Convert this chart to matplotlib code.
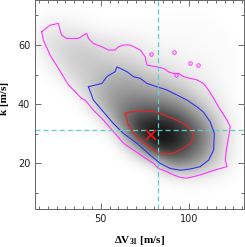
import matplotlib
matplotlib.use('Agg')
import matplotlib.pyplot as plt
import numpy as np
from matplotlib.ticker import MultipleLocator

plt.rcParams['mathtext.fontset'] = 'custom'
plt.rcParams['mathtext.rm'] = 'Liberation Serif:bold'
plt.rcParams['mathtext.default'] = 'rm'

# Density map (darkness 0..1) on a coarse grid
grid_x = [10, 20, 30, 40, 50, 60, 70, 80, 90, 100, 110, 120, 130]
grid_y = [75, 70, 65, 60, 55, 50, 45, 40, 35, 30, 25, 20, 15, 10, 5]
density = [
    [0, 0, 0, 0, 0, 0, 0, 0, 0, 0, 0, 0, 0],
    [0, 0.02, 0.02, 0.01, 0, 0, 0, 0, 0.01, 0.01, 0.01, 0, 0],
    [0, 0.09, 0.09, 0.06, 0.03, 0.02, 0.02, 0.02, 0.02, 0.02, 0.02, 0.01, 0],
    [0, 0.12, 0.17, 0.19, 0.13, 0.11, 0.07, 0.04, 0.03, 0.03, 0.02, 0.02, 0],
    [0, 0.05, 0.17, 0.22, 0.20, 0.17, 0.13, 0.09, 0.06, 0.04, 0.03, 0.02, 0],
    [0, 0, 0.11, 0.20, 0.26, 0.31, 0.27, 0.18, 0.13, 0.08, 0.05, 0.02, 0],
    [0, 0, 0, 0.14, 0.31, 0.39, 0.40, 0.35, 0.28, 0.17, 0.08, 0.03, 0],
    [0, 0, 0, 0, 0.30, 0.46, 0.54, 0.55, 0.48, 0.34, 0.16, 0.05, 0],
    [0, 0, 0, 0, 0.02, 0.48, 0.74, 0.82, 0.78, 0.58, 0.32, 0.08, 0],
    [0, 0, 0, 0, 0, 0.08, 0.82, 0.99, 0.94, 0.75, 0.47, 0.12, 0],
    [0, 0, 0, 0, 0, 0, 0.20, 0.84, 0.87, 0.67, 0.42, 0.12, 0],
    [0, 0, 0, 0, 0, 0, 0, 0.05, 0.48, 0.46, 0.28, 0.08, 0],
    [0, 0, 0, 0, 0, 0, 0, 0, 0.03, 0.06, 0.04, 0.02, 0],
    [0, 0, 0, 0, 0, 0, 0, 0, 0, 0, 0, 0, 0],
    [0, 0, 0, 0, 0, 0, 0, 0, 0, 0, 0, 0, 0],
]

# Outer (magenta) contour
mag_x = [16.6, 21.3, 26.0, 27.0, 27.9, 30.7, 37.3, 40.2, 42.1, 43.0, 45.8, 50.6, 54.3, 58.1,
         60.0, 62.8, 66.6, 72.3, 75.1, 76.1, 81.7, 85.5, 88.3, 91.1, 94.0, 96.8, 100.6, 104.4,
         108.1, 110.9, 113.8, 116.6, 121.4, 123.2, 122.3, 121.0, 120.4, 121.4, 114.7, 106.2,
         98.7, 94.9, 91.1, 87.4, 82.6, 79.8, 74.1, 68.5, 62.8, 58.1, 51.5, 45.8, 41.1, 39.2,
         31.7, 26.0, 21.3, 17.5, 16.6]
mag_y = [64.5, 66.7, 67.3, 65.0, 63.3, 62.2, 62.2, 63.3, 63.9, 62.2, 60.5, 59.4, 58.3, 58.3,
         59.4, 60.0, 60.0, 58.3, 56.0, 53.2, 52.6, 52.1, 50.9, 50.4, 50.4, 49.3, 48.7, 48.2,
         47.0, 44.8, 42.0, 39.1, 34.6, 32.4, 29.0, 24.5, 21.1, 18.9, 17.8, 16.1,
         15.0, 15.3, 16.1, 17.2, 18.3, 20.0, 22.2, 24.5, 26.8, 30.1, 34.6, 38.0, 41.4, 41.9,
         46.5, 52.1, 56.6, 61.7, 64.5]
# small isolated magenta islands
blob_x = [78.6, 91.3, 100.6, 105.1, 92.3]
blob_y = [56.8, 57.7, 53.8, 53.2, 49.8]

# Middle (blue) contour
blue_x = [43.0, 50.6, 53.4, 58.1, 59.1, 61.0, 64.7, 68.5, 72.3, 76.1, 81.7, 87.4, 93.0, 98.7,
          104.4, 108.1, 111.9, 114.2, 113.8, 111.0, 106.2, 100.6, 94.9, 89.2, 83.6, 77.9,
          70.4, 62.8, 57.1, 51.5, 45.8, 43.0]
blue_y = [45.9, 47.0, 49.3, 51.0, 52.6, 52.1, 51.0, 49.3, 48.7, 47.0, 45.9, 44.8, 43.1, 41.4,
          39.1, 37.3, 34.0, 30.1, 24.5, 21.1, 18.9, 18.1, 17.7, 18.3, 20.0, 22.8,
          26.8, 30.1, 33.5, 37.4, 41.4, 45.9]

# Inner (red) contour
red_x = [63.8, 66.6, 74.1, 81.7, 87.4, 93.0, 96.8, 101.5, 102.4, 100.6, 96.8, 91.1, 85.5,
         79.8, 76.1, 70.4, 65.5, 63.8]
red_y = [36.9, 37.4, 37.7, 37.4, 36.0, 34.6, 33.5, 31.3, 29.0, 26.8, 25.1, 23.5, 23.1,
         24.5, 26.2, 29.0, 32.9, 36.9]

best_x, best_y = 78.6, 29.6
ref_x, ref_y = 82.3, 31.2

fig = plt.figure(figsize=(2.45, 2.47), dpi=100)
ax = fig.add_axes([0.143, 0.154, 0.853, 0.846])

dx, dy = 5, 2.5
ax.imshow(np.array(density), cmap='gray_r', vmin=0, vmax=1, aspect='auto',
          interpolation='bicubic',
          extent=[grid_x[0] - dx, grid_x[-1] + dx, grid_y[-1] - dy, grid_y[0] + dy])

ax.plot(mag_x, mag_y, color='#ff33ff', lw=0.8)
ax.plot(blob_x, blob_y, 'o', ms=2.5, mfc='none', mec='#ff33ff', mew=0.7)
ax.plot(blue_x, blue_y, color='#3333ee', lw=0.8)
ax.plot(red_x, red_y, color='#ee2222', lw=0.8)

ax.axvline(ref_x, color='#5fcccc', lw=0.9, ls=(0, (4, 2.5)))
ax.axhline(ref_y, color='#5fcccc', lw=0.9, ls=(0, (4, 2.5)))
ax.plot(best_x, best_y, 'x', color='#ee1111', ms=7, mew=1.3)

ax.set_xlim(12.8, 131)
ax.set_ylim(4.6, 75.2)
ax.xaxis.set_major_locator(MultipleLocator(50))
ax.xaxis.set_minor_locator(MultipleLocator(5))
ax.yaxis.set_major_locator(MultipleLocator(20))
ax.yaxis.set_minor_locator(MultipleLocator(10))
ax.tick_params(which='both', direction='in', top=True, right=True, colors='#555555',
               labelcolor='#222222', labelsize=7, width=0.6)
ax.tick_params(which='major', length=4)
ax.tick_params(which='minor', length=2)
for s in ax.spines.values():
    s.set_color('#666666')
    s.set_linewidth(0.7)

ax.set_xlabel('\u0394V$_{31}$ [m/s]', family='Liberation Serif', fontweight='bold', fontsize=8)
ax.set_ylabel('k [m/s]', family='Liberation Serif', fontweight='bold', fontsize=8)
ax.xaxis.set_label_coords(0.502, -0.118)
ax.yaxis.set_label_coords(-0.125, 0.53)

fig.savefig('out.png', dpi=100)
